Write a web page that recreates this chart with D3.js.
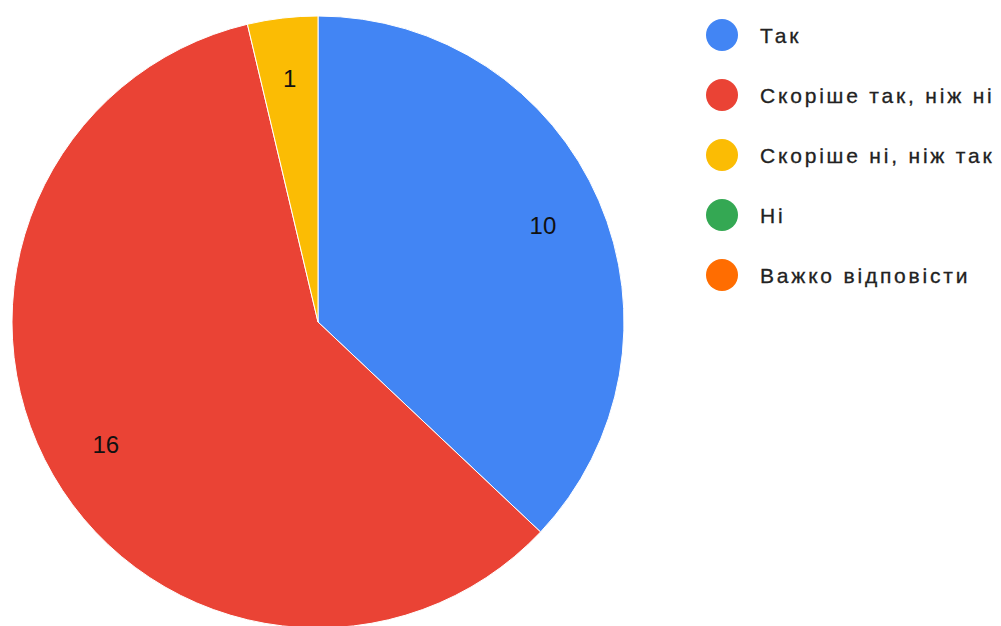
<!DOCTYPE html>
<html><head><meta charset="utf-8">
<script src="https://cdn.jsdelivr.net/npm/d3@7"></script>
<style>html,body{margin:0;padding:0;background:#fff;overflow:hidden}</style>
</head><body>
<svg id="c" width="1001" height="626"></svg>
<script>
const categories = ["Так", "Скоріше так, ніж ні", "Скоріше ні, ніж так", "Ні", "Важко відповісти"];
const values = [10, 16, 1, 0, 0];
const colors = ["#4285f4", "#ea4335", "#fbbc04", "#34a853", "#ff6d01"];

const svg = d3.select("#c");
const cx = 318, cy = 322, R = 306, labelR = 245;
const data = categories.map((c, i) => ({name: c, value: values[i], color: colors[i]}));
const pie = d3.pie().value(d => d.value).sort(null);
const arcs = pie(data);
const arc = d3.arc().innerRadius(0).outerRadius(R);
const labelArc = d3.arc().innerRadius(labelR).outerRadius(labelR);
const g = svg.append("g").attr("transform", `translate(${cx},${cy})`);
g.selectAll("path").data(arcs.filter(a => a.value > 0)).join("path")
  .attr("d", arc).attr("fill", d => d.data.color)
  .attr("stroke", "#fff").attr("stroke-width", 1);
g.selectAll("text").data(arcs.filter(a => a.value > 0)).join("text")
  .attr("transform", d => `translate(${labelArc.centroid(d)})`)
  .attr("text-anchor", "middle").attr("dy", "0.36em")
  .attr("font-family", "Liberation Sans, Arial, sans-serif")
  .attr("font-size", 24).attr("fill", "#111")
  .text(d => d.value);

const leg = svg.append("g");
const rowY = d3.scalePoint().domain(categories).range([35, 275]);
const items = leg.selectAll("g").data(data).join("g")
  .attr("transform", d => `translate(722,${rowY(d.name)})`);
items.append("circle").attr("r", 16).attr("fill", d => d.color);
items.append("text").attr("x", 38).attr("dy", "0.36em")
  .attr("font-family", "Liberation Sans, Arial, sans-serif")
  .attr("font-size", 21).attr("letter-spacing", "2.8px").attr("fill", "#222")
  .attr("stroke", "#222").attr("stroke-width", 0.3)
  .text(d => d.name);
</script>
</body></html>
